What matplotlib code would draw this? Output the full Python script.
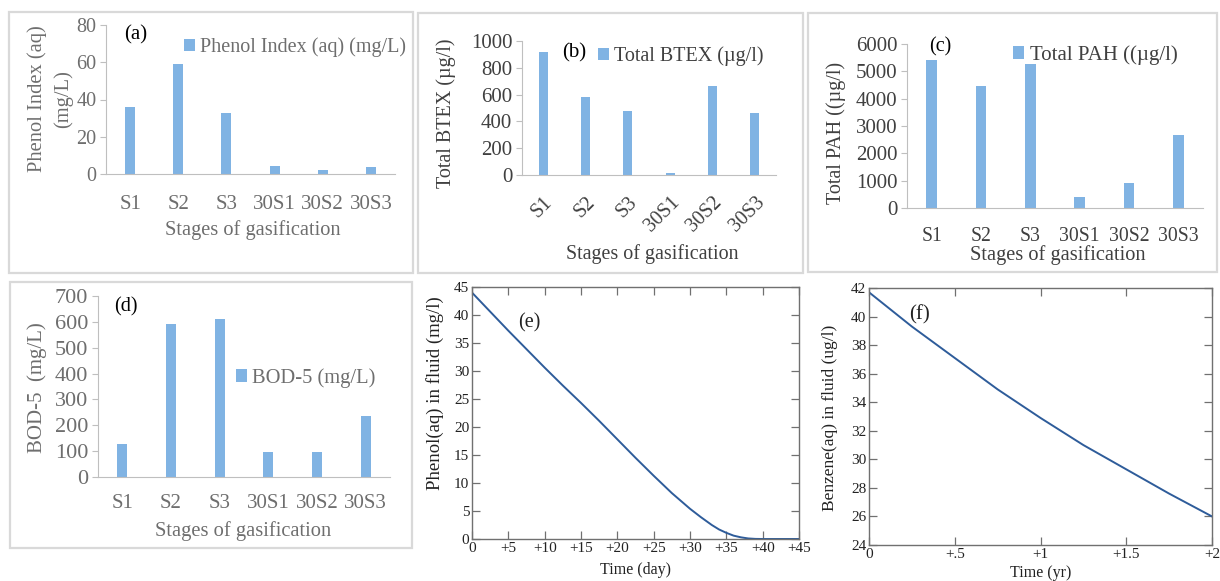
import matplotlib
matplotlib.use("Agg")
import matplotlib.pyplot as plt
from matplotlib.patches import Rectangle

plt.rcParams['font.family'] = ['Liberation Serif', 'DejaVu Serif']

# ---------------- data ----------------
stages = ["S1", "S2", "S3", "30S1", "30S2", "30S3"]
phenol_index = [36, 59, 33, 4.5, 2, 4]
total_btex = [920, 585, 475, 12, 667, 460]
total_pah = [5400, 4450, 5280, 390, 900, 2680]
bod5 = [129, 592, 611, 97, 97, 235]

phenol_t = [0, 2.5, 5, 7.5, 10, 12.5, 15, 17.5, 20, 22.5, 25, 27.5, 30, 31.5, 33, 34, 35, 36, 37, 38, 39, 40, 42, 45]
phenol_v = [44, 40.6, 37.2, 33.9, 30.6, 27.4, 24.3, 21.1, 17.8, 14.5, 11.3, 8.2, 5.4, 3.9, 2.5, 1.7, 1.1, 0.6, 0.3, 0.1, 0.02, 0, 0, 0]

benzene_t = [0, 0.25, 0.5, 0.75, 1.0, 1.25, 1.5, 1.75, 2.0]
benzene_v = [41.7, 39.3, 37.1, 34.9, 32.9, 31.0, 29.3, 27.6, 26.0]

e_xticks = [0, 5, 10, 15, 20, 25, 30, 35, 40, 45]
e_xlabels = ["0", "+5", "+10", "+15", "+20", "+25", "+30", "+35", "+40", "+45"]
f_xticks = [0, 0.5, 1, 1.5, 2]
f_xlabels = ["0", "+.5", "+1", "+1.5", "+2"]

# ---------------- layout helpers ----------------
W, H = 1220, 581
fig = plt.figure(figsize=(W / 100, H / 100), dpi=100)
fig.patch.set_facecolor("white")

def rect(x0, y0, x1, y1):
    return [x0 / W, 1 - y1 / H, (x1 - x0) / W, (y1 - y0) / H]

def fx(x):
    return x / W

def fy(y):
    return 1 - y / H

BAR = "#80B3E3"
BOX = "#D9D9D9"
AXL = "#BFBFBF"

def panel_box(x0, y0, x1, y1):
    fig.patches.append(Rectangle((fx(x0), fy(y1)), (x1 - x0) / W, (y1 - y0) / H,
                                 transform=fig.transFigure, fill=False,
                                 edgecolor=BOX, lw=1.6, zorder=0))

def bar_panel(r, vals, ymax, ystep, tcol, label, ysize, xsize, xpad, rot=False):
    ax = fig.add_axes(rect(*r))
    x = list(range(len(stages)))
    ax.bar(x, vals, width=0.21, color=BAR, label=label, zorder=2)
    ax.set_xlim(-0.5, len(stages) - 0.5)
    ax.set_ylim(0, ymax)
    ax.set_yticks(list(range(0, ymax + 1, ystep)))
    ax.set_xticks(x)
    for s in ["top", "right"]:
        ax.spines[s].set_visible(False)
    ax.spines["left"].set_color(AXL)
    ax.spines["bottom"].set_color(AXL)
    ax.tick_params(axis="y", colors=AXL, labelcolor=tcol, labelsize=ysize, length=4, pad=3)
    ax.tick_params(axis="x", length=0, labelcolor=tcol, labelsize=xsize, pad=xpad)
    if rot:
        ax.set_xticklabels(stages, rotation=45, ha="right", va="top", rotation_mode="anchor")
    else:
        ax.set_xticklabels(stages)
    ax.set_facecolor("none")
    return ax

def bar_legend(ax, x, y, size, col):
    ax.legend(loc="center left", bbox_to_anchor=(fx(x), fy(y)), bbox_transform=fig.transFigure,
              frameon=False, fontsize=size, handlelength=0.55, handleheight=0.55, handletextpad=0.25,
              borderpad=0, borderaxespad=0, labelcolor=col)

# ---------------- panel (a) ----------------
panel_box(9, 12, 413, 273)
GA = "#6E6E6E"
axa = bar_panel((106, 25, 395, 174), phenol_index, 80, 20, GA, "Phenol Index (aq) (mg/L)", 14.5, 15, 15)
bar_legend(axa, 184, 47, 14.5, GA)
fig.text(fx(136), fy(35), "(a)", fontsize=15, ha="center", va="center", color="black")
fig.text(fx(37), fy(99), "Phenol Index (aq)", rotation=90, fontsize=14.8, ha="center", va="center", color=GA)
fig.text(fx(63), fy(99), "(mg/L)", rotation=90, fontsize=14.8, ha="center", va="center", color=GA)
fig.text(fx(253), fy(230), "Stages of gasification", fontsize=14.7, ha="center", va="center", color=GA)

# ---------------- panel (b) ----------------
panel_box(418, 13, 803, 273)
GB = "#404040"
axb = bar_panel((522, 41, 776, 175), total_btex, 1000, 200, GB, "Total BTEX (\u00b5g/l)", 15, 14.5, 13, rot=True)
bar_legend(axb, 598, 56, 14.5, GB)
fig.text(fx(574), fy(53), "(b)", fontsize=15, ha="center", va="center", color="black")
fig.text(fx(446), fy(113), "Total BTEX (\u00b5g/l)", rotation=90, fontsize=14.5, ha="center", va="center", color=GB)
fig.text(fx(652), fy(254), "Stages of gasification", fontsize=14.4, ha="center", va="center", color=GB)

# ---------------- panel (c) ----------------
panel_box(808, 13, 1217, 272)
axc = bar_panel((907, 44, 1203, 208), total_pah, 6000, 1000, GB, "Total PAH ((\u00b5g/l)", 15, 14.2, 14)
bar_legend(axc, 1013, 55, 15, GB)
fig.text(fx(940), fy(47), "(c)", fontsize=14.5, ha="center", va="center", color="black")
fig.text(fx(836), fy(133), "Total PAH ((\u00b5g/l)", rotation=90, fontsize=14.5, ha="center", va="center", color=GB)
fig.text(fx(1058), fy(255), "Stages of gasification", fontsize=14.7, ha="center", va="center", color=GB)

# ---------------- panel (d) ----------------
panel_box(10, 282, 412, 548)
axd = bar_panel((98, 296, 390, 477), bod5, 700, 100, GA, "BOD-5 (mg/L)", 16, 15, 12)
bar_legend(axd, 236, 378, 14.8, GA)
fig.text(fx(126), fy(307), "(d)", fontsize=14.5, ha="center", va="center", color="black")
fig.text(fx(37), fy(388), "BOD-5  (mg/L)", rotation=90, fontsize=15, ha="center", va="center", color=GA)
fig.text(fx(243), fy(531), "Stages of gasification", fontsize=14.8, ha="center", va="center", color=GA)

# ---------------- line panels ----------------
LINE = "#2E5C9A"
SP = "#707070"

def line_panel(r, t, v, xlim, ylim, yticks, xticks, xlabels):
    ax = fig.add_axes(rect(*r))
    ax.plot(t, v, color=LINE, lw=1.4)
    ax.set_xlim(*xlim)
    ax.set_ylim(*ylim)
    ax.set_xticks(xticks)
    ax.set_xticklabels(xlabels)
    ax.set_yticks(yticks)
    for s in ax.spines.values():
        s.set_color(SP)
        s.set_linewidth(1.0)
    ax.tick_params(direction="in", top=True, right=True, length=6, width=0.9,
                   colors=SP, labelcolor="#222222", labelsize=11)
    ax.tick_params(axis="x", pad=2)
    ax.tick_params(axis="y", pad=2)
    return ax

axe = line_panel((472, 287, 799, 539), phenol_t, phenol_v, (0, 45), (0, 45),
                 list(range(0, 46, 5)), e_xticks, e_xlabels)
fig.text(fx(529), fy(323), "(e)", fontsize=14.5, ha="center", va="center", color="#222222")
fig.text(fx(435), fy(393), "Phenol(aq) in fluid (mg/l)", rotation=90, fontsize=13.5, ha="center", va="center", color="#222222")
fig.text(fx(636), fy(570), "Time (day)", fontsize=11.5, ha="center", va="center", color="#222222")

axf = line_panel((869, 288, 1212, 545), benzene_t, benzene_v, (0, 2), (24, 42),
                 list(range(24, 43, 2)), f_xticks, f_xlabels)
fig.text(fx(920), fy(315), "(f)", fontsize=15, ha="center", va="center", color="#222222")
fig.text(fx(830), fy(418), "Benzene(aq) in fluid (ug/l)", rotation=90, fontsize=12.5, ha="center", va="center", color="#222222")
fig.text(fx(1041), fy(573), "Time (yr)", fontsize=11.5, ha="center", va="center", color="#222222")

fig.savefig("out.png", dpi=100)
